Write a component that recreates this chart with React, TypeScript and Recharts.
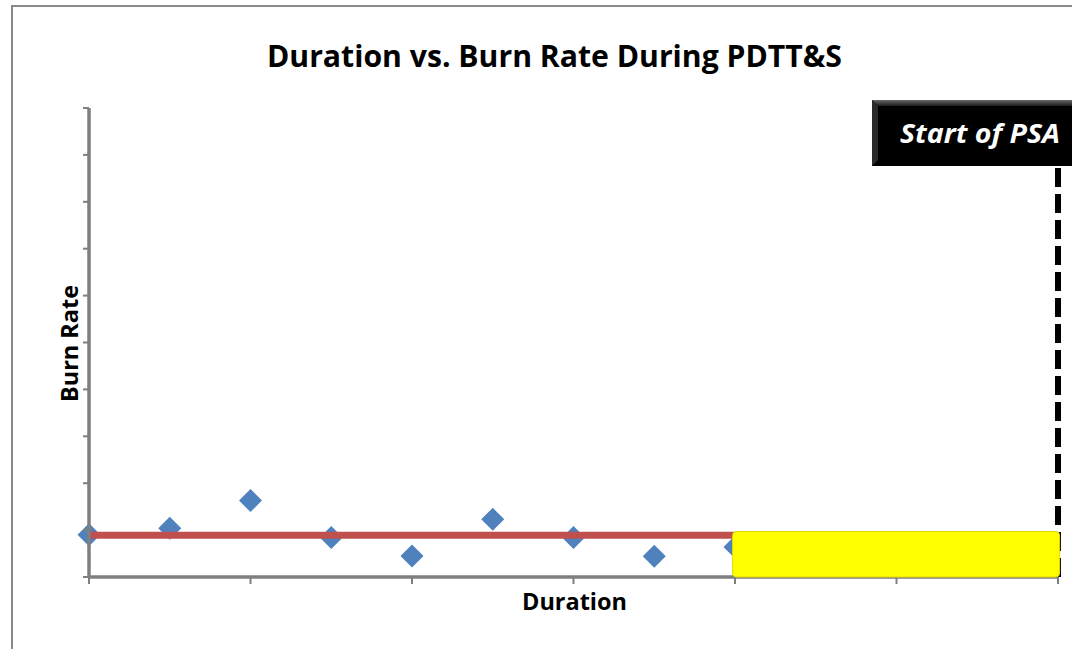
import React from 'react';
import {
  ComposedChart,
  XAxis,
  YAxis,
  Scatter,
  Line,
  ReferenceArea,
  ReferenceLine,
} from 'recharts';

// ---- data ----
const durations = [0, 0.5, 1, 1.5, 2, 2.5, 3, 3.5, 4];
const burnRates = [0.9, 1.04, 1.63, 0.84, 0.45, 1.23, 0.84, 0.44, 0.64];
const averageX = [0, 6];
const averageY = [0.89, 0.89];
const xTicks = [0, 1, 2, 3, 4, 5, 6];
const yTicks = [0, 1, 2, 3, 4, 5, 6, 7, 8, 9, 10];
const psaStart = 6;
const highlightX = [3.985, 6.01];
const highlightY = [0, 0.97];

const TITLE = 'Duration vs. Burn Rate During PDTT&S';
const X_LABEL = 'Duration';
const Y_LABEL = 'Burn Rate';
const PSA_LABEL = 'Start of PSA';

const points = durations.map((x, i) => ({ x, y: burnRates[i] }));
const avgLine = averageX.map((x, i) => ({ x, y: averageY[i] }));

const FONT = "'Open Sans', 'Noto Sans', 'DejaVu Sans', sans-serif";
const AXIS = '#7f7f7f';

const Diamond = (props: any) => {
  const { cx, cy } = props;
  if (cx == null || cy == null) return <g />;
  const r = 11.5;
  return (
    <polygon
      points={`${cx},${cy - r} ${cx + r},${cy} ${cx},${cy + r} ${cx - r},${cy}`}
      fill="#4F81BD"
    />
  );
};

const NoTick = () => <g />;

const PsaLabel = (props: any) => {
  const vb = props.viewBox || {};
  const x = vb.x ?? 0;
  const y = vb.y ?? 0;
  const left = x - 186;
  const top = y - 8;
  const w = 220;
  const h = 66;
  return (
    <g>
      <defs>
        <linearGradient id="psaTop" x1="0" y1="0" x2="0" y2="1">
          <stop offset="0" stopColor="#6a6a6a" />
          <stop offset="1" stopColor="#1a1a1a" />
        </linearGradient>
      </defs>
      <rect x={left} y={top} width={w} height={h} fill="#000" />
      <polygon
        points={`${left},${top} ${left + w},${top} ${left + w - 6},${top + 6} ${left + 6},${top + 6}`}
        fill="url(#psaTop)"
      />
      <polygon
        points={`${left},${top} ${left + 6},${top + 6} ${left + 6},${top + h - 6} ${left},${top + h}`}
        fill="#2a2a2a"
      />
      <text
        x={left + 28}
        y={top + 43}
        fill="#ffffff"
        fontFamily={FONT}
        fontWeight="bold"
        fontStyle="italic"
        fontSize={27}
        textLength={160}
        lengthAdjust="spacingAndGlyphs"
      >
        {PSA_LABEL}
      </text>
    </g>
  );
};

export default function App() {
  return (
    <div
      style={{
        position: 'absolute',
        left: 0,
        top: 0,
        width: 1072,
        height: 649,
        overflow: 'hidden',
        background: '#ffffff',
      }}
    >
      <div
        style={{
          position: 'absolute',
          left: 11,
          top: 5,
          width: 1100,
          height: 700,
          border: '2px solid #8a8a8a',
          boxSizing: 'border-box',
        }}
      />
      <div style={{ position: 'absolute', left: 0, top: 0 }}>
        <ComposedChart
          width={1072}
          height={649}
          margin={{ top: 108, right: 14, bottom: 71, left: 88 }}
        >
          <XAxis
            type="number"
            dataKey="x"
            domain={[0, 6]}
            ticks={xTicks}
            tick={NoTick}
            height={1}
            stroke={AXIS}
            strokeWidth={3}
            axisLine={{ stroke: AXIS, strokeWidth: 3.5 }}
            tickLine={{ stroke: AXIS, strokeWidth: 2 }}
            tickSize={7}
          />
          <YAxis
            type="number"
            dataKey="y"
            domain={[0, 10]}
            ticks={yTicks}
            tick={NoTick}
            width={1}
            stroke={AXIS}
            strokeWidth={3}
            axisLine={{ stroke: AXIS, strokeWidth: 3.5 }}
            tickLine={{ stroke: AXIS, strokeWidth: 2 }}
            tickSize={6}
          />
          <Scatter
            data={points}
            dataKey="y"
            shape={Diamond}
            isAnimationActive={false}
            zIndex={300}
          />
          <Line
            data={avgLine}
            dataKey="y"
            stroke="#C0504D"
            strokeWidth={7}
            dot={false}
            activeDot={false}
            isAnimationActive={false}
            zIndex={400}
          />
          <ReferenceLine
            x={psaStart}
            stroke="#000000"
            strokeWidth={6}
            strokeDasharray="19 7"
            label={<PsaLabel />}
            zIndex={650}
          />
          <ReferenceArea
            x1={highlightX[0]}
            x2={highlightX[1]}
            y1={highlightY[0]}
            y2={highlightY[1]}
            fill="#FFFF00"
            fillOpacity={1}
            stroke="#E8D800"
            strokeWidth={1}
            radius={4}
            ifOverflow="visible"
            zIndex={700}
          />
        </ComposedChart>
      </div>
      <svg
        width={1072}
        height={649}
        style={{ position: 'absolute', left: 0, top: 0, pointerEvents: 'none' }}
      >
        <text
          x={267}
          y={67}
          fontFamily={FONT}
          fontWeight="bold"
          fontSize={31}
          fill="#000"
          textLength={575}
          lengthAdjust="spacingAndGlyphs"
        >
          {TITLE}
        </text>
        <text
          x={522}
          y={610}
          fontFamily={FONT}
          fontWeight="bold"
          fontSize={24}
          fill="#000"
          textLength={105}
          lengthAdjust="spacingAndGlyphs"
        >
          {X_LABEL}
        </text>
        <text
          transform="translate(78,402) rotate(-90)"
          x={0}
          y={0}
          fontFamily={FONT}
          fontWeight="bold"
          fontSize={24}
          fill="#000"
          textLength={117}
          lengthAdjust="spacingAndGlyphs"
        >
          {Y_LABEL}
        </text>
      </svg>
    </div>
  );
}
